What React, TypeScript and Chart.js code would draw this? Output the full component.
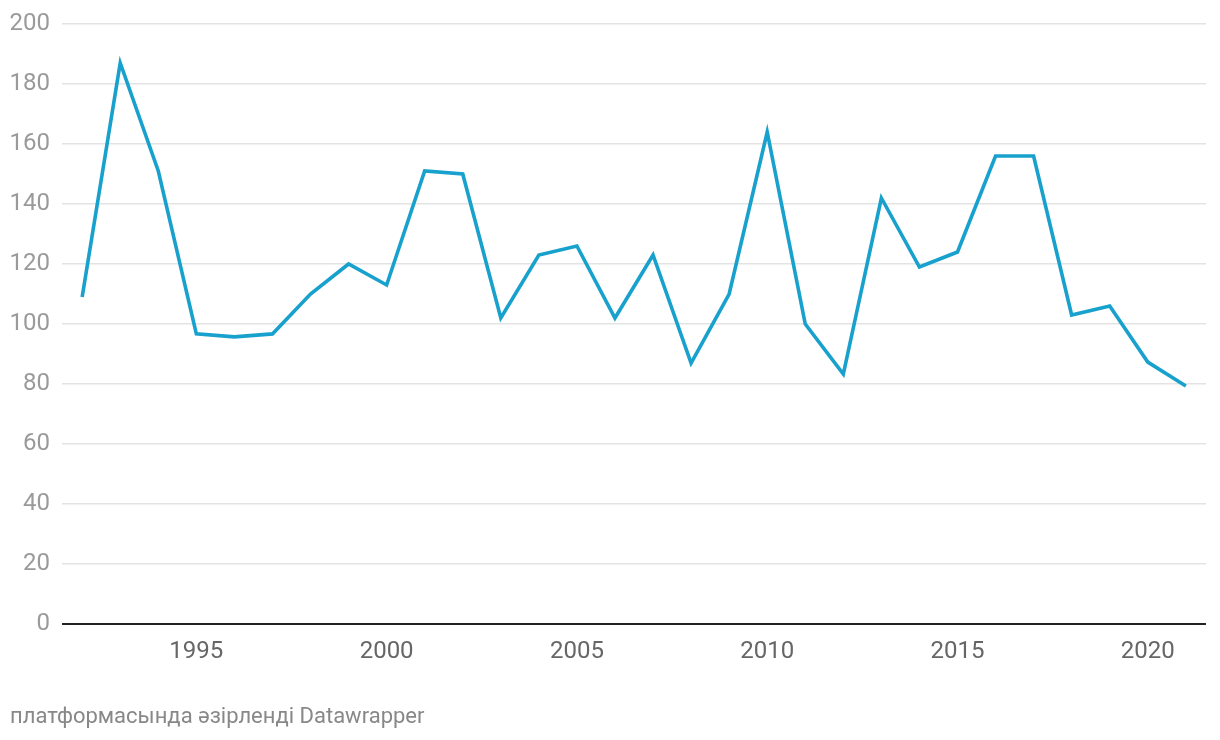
import React, { useEffect, useRef } from "react";
import { Chart, registerables } from "chart.js";

Chart.register(...registerables);

const years = [1992, 1993, 1994, 1995, 1996, 1997, 1998, 1999, 2000, 2001, 2002, 2003, 2004, 2005, 2006, 2007, 2008, 2009, 2010, 2011, 2012, 2013, 2014, 2015, 2016, 2017, 2018, 2019, 2020, 2021];
const values = [109, 187, 151, 96.7, 95.7, 96.7, 110, 120, 113, 151, 150, 102, 123, 126, 102, 123, 87, 110, 164, 100, 83.3, 142, 119, 124, 156, 156, 103, 106, 87.3, 79.3];
const xTicks = [1995, 2000, 2005, 2010, 2015, 2020];
const yTicks = [0, 20, 40, 60, 80, 100, 120, 140, 160, 180, 200];
const footer = "платформасында әзірленді Datawrapper";

export default function App() {
  const ref = useRef<HTMLCanvasElement | null>(null);
  useEffect(() => {
    if (!ref.current) return;
    const chart = new Chart(ref.current, {
      type: "line",
      data: {
        datasets: [
          {
            data: years.map((y, i) => ({ x: y, y: values[i] })),
            borderColor: "#18a1cd",
            borderWidth: 3.6,
            pointRadius: 0,
            tension: 0,
            fill: false,
          },
        ],
      },
      options: {
        animation: false,
        responsive: false,
        maintainAspectRatio: false,
        layout: { padding: { top: 24, left: 0, right: 14, bottom: 0 } },
        plugins: { legend: { display: false }, tooltip: { enabled: false } },
        scales: {
          x: {
            type: "linear",
            min: 1991.47,
            max: 2021.53,
            afterBuildTicks: (scale: any) => {
              scale.ticks = xTicks.map((v) => ({ value: v }));
            },
            afterFit: (scale: any) => {
              scale.height = 116;
              scale.paddingLeft = 0;
              scale.paddingRight = 0;
            },
            grid: { display: false, drawTicks: false },
            border: { display: false },
            ticks: {
              autoSkip: false,
              maxRotation: 0,
              padding: 14,
              color: "#666666",
              font: { family: "Roboto", size: 24 },
              callback: (v: any) => String(v),
            },
          },
          y: {
            min: 0,
            max: 200,
            afterBuildTicks: (scale: any) => {
              scale.ticks = yTicks.map((v) => ({ value: v }));
            },
            afterFit: (scale: any) => {
              scale.width = 62;
              scale.paddingTop = 0;
              scale.paddingBottom = 0;
            },
            grid: {
              drawTicks: false,
              color: (ctx: any) => (ctx.tick && ctx.tick.value === 0 ? "#222222" : "#e3e3e3"),
              lineWidth: (ctx: any) => (ctx.tick && ctx.tick.value === 0 ? 2 : 1.5),
            },
            border: { display: false },
            ticks: {
              padding: 12,
              color: "#9a9a9a",
              font: { family: "Roboto", size: 24 },
            },
          },
        },
      },
    });
    return () => chart.destroy();
  }, []);
  return (
    <div style={{ position: "absolute", left: 0, top: 0, width: 1220, height: 740, background: "#fff" }}>
      <canvas ref={ref} width={1220} height={740} style={{ position: "absolute", left: 0, top: 0 }} />
      <div
        style={{
          position: "absolute",
          left: 10,
          top: 703,
          fontFamily: "Roboto",
          fontSize: 22,
          color: "#888888",
          whiteSpace: "nowrap",
        }}
      >
        {footer}
      </div>
    </div>
  );
}
